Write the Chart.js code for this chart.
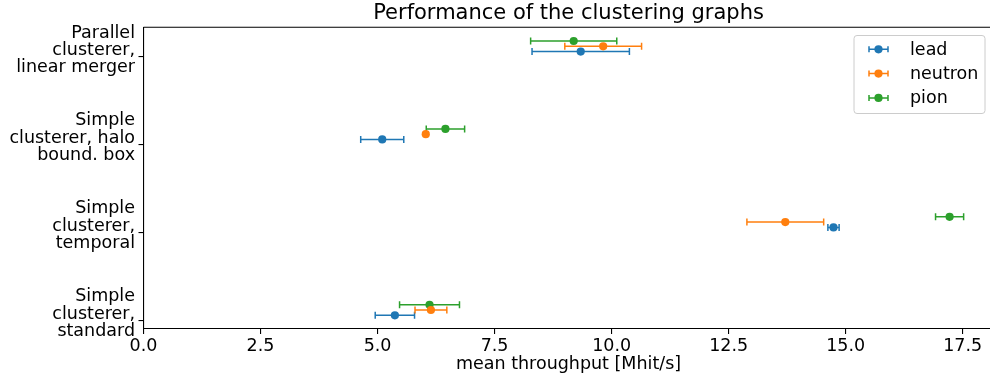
<!DOCTYPE html>
<html>
<head>
<meta charset="utf-8">
<script src="https://cdn.jsdelivr.net/npm/chart.js@4.4.1/dist/chart.umd.min.js"></script>
<style>
  html, body { margin: 0; padding: 0; background: #fff; overflow: hidden; }
  #wrap { width: 1000px; height: 379px; position: relative; }
</style>
</head>
<body>
<div id="wrap"><canvas id="chart"></canvas></div>
<script>
// categories, bottom to top
const categories = [
  ['Simple', 'clusterer,', 'standard'],
  ['Simple', 'clusterer,', 'temporal'],
  ['Simple', 'clusterer, halo', 'bound. box'],
  ['Parallel', 'clusterer,', 'linear merger']
];
const leadMean    = [5.37, 14.74, 5.10, 9.34];
const leadErr     = [0.42, 0.12, 0.46, 1.04];
const neutronMean = [6.14, 13.71, 6.03, 9.82];
const neutronErr  = [0.34, 0.82, 0.01, 0.82];
const pionMean    = [6.11, 17.22, 6.45, 9.19];
const pionErr     = [0.64, 0.30, 0.41, 0.92];
const xTicks = [0, 2.5, 5, 7.5, 10, 12.5, 15, 17.5];
const seriesNames = ['lead', 'neutron', 'pion'];

const colors = ['#1f77b4', '#ff7f0e', '#2ca02c'];
const FONT = "'DejaVu Sans', sans-serif";
const FS = 17.5;
const means = [leadMean, neutronMean, pionMean];
const errs = [leadErr, neutronErr, pionErr];
const offsets = [0.06, 0.12, 0.18];

const datasets = seriesNames.map((name, s) => ({
  label: name,
  data: means[s].map((m, i) => ({ x: m, y: i + offsets[s], err: errs[s][i] })),
  backgroundColor: colors[s],
  borderColor: colors[s],
  pointRadius: 4.1,
  pointHoverRadius: 4.1,
  pointBorderWidth: 0,
  showLine: false
}));

function errBar(ctx, xl, xr, y, color, cap) {
  ctx.strokeStyle = color;
  ctx.lineWidth = 1.5;
  ctx.beginPath();
  ctx.moveTo(xl, y); ctx.lineTo(xr, y);
  ctx.moveTo(xl, y - cap); ctx.lineTo(xl, y + cap);
  ctx.moveTo(xr, y - cap); ctx.lineTo(xr, y + cap);
  ctx.stroke();
}

const errorBars = {
  id: 'errorBars',
  beforeDatasetsDraw(chart) {
    const { ctx, scales: { x, y } } = chart;
    ctx.save();
    chart.data.datasets.forEach(ds => {
      ds.data.forEach(p => {
        const py = y.getPixelForValue(p.y);
        errBar(ctx, x.getPixelForValue(p.x - p.err), x.getPixelForValue(p.x + p.err), py, ds.borderColor, 3.5);
      });
    });
    ctx.restore();
  }
};

const decor = {
  id: 'decor',
  afterDraw(chart) {
    const { ctx, chartArea: a, scales: { y } } = chart;
    ctx.save();
    // top and right spines
    ctx.strokeStyle = '#000';
    ctx.lineWidth = 1.1;
    ctx.beginPath();
    ctx.moveTo(a.left, a.top); ctx.lineTo(a.right, a.top); ctx.lineTo(a.right, a.bottom);
    ctx.stroke();
    // title
    ctx.fillStyle = '#000';
    ctx.font = '21px ' + FONT;
    ctx.textAlign = 'center';
    ctx.textBaseline = 'alphabetic';
    ctx.fillText('Performance of the clustering graphs', (a.left + a.right) / 2, 18.5);
    // y category labels (multi-line, matplotlib-like placement)
    ctx.font = FS + 'px ' + FONT;
    ctx.textAlign = 'right';
    categories.forEach((lines, i) => {
      const ty = y.getPixelForValue(i);
      const mid = (lines.length - 1) / 2;
      lines.forEach((t, k) => ctx.fillText(t, 135, ty - 2 + (k - mid) * 17.3));
    });
    // legend
    const bx = 854, by = 35.5, bw = 131, bh = 78;
    ctx.beginPath();
    ctx.roundRect(bx, by, bw, bh, 3);
    ctx.fillStyle = 'rgba(255,255,255,0.8)';
    ctx.fill();
    ctx.strokeStyle = '#cccccc';
    ctx.lineWidth = 1;
    ctx.stroke();
    ctx.textAlign = 'left';
    ctx.textBaseline = 'middle';
    chart.data.datasets.forEach((ds, s) => {
      const ly = 49.3 + s * 24.3;
      errBar(ctx, 869, 888, ly, ds.borderColor, 3);
      ctx.fillStyle = ds.borderColor;
      ctx.beginPath();
      ctx.arc(878.5, ly, 4.1, 0, Math.PI * 2);
      ctx.fill();
      ctx.fillStyle = '#000';
      ctx.fillText(ds.label, 910, ly + 1);
    });
    ctx.restore();
  }
};

new Chart(document.getElementById('chart'), {
  type: 'scatter',
  data: { datasets },
  options: {
    responsive: true,
    maintainAspectRatio: false,
    animation: false,
    layout: { padding: { top: 27.3, right: 6.4, left: 0, bottom: 0 } },
    plugins: { legend: { display: false }, tooltip: { enabled: false } },
    scales: {
      x: {
        type: 'linear',
        position: 'bottom',
        min: 0,
        max: 18.16,
        afterBuildTicks: s => { s.ticks = xTicks.map(v => ({ value: v })); },
        afterFit: s => { s.height = 50; s.paddingLeft = 0; s.paddingRight = 0; },
        ticks: { callback: v => v.toFixed(1), color: '#000', font: { family: FONT, size: FS }, padding: 2, maxRotation: 0 },
        grid: { drawOnChartArea: false, drawTicks: true, tickLength: 5, color: '#000', lineWidth: 1.1 },
        border: { color: '#000', width: 1.1 },
        title: { display: true, text: 'mean throughput [Mhit/s]', color: '#000', font: { family: FONT, size: FS }, padding: { top: 0, bottom: 4 } }
      },
      y: {
        type: 'linear',
        min: -0.096,
        max: 3.336,
        afterBuildTicks: s => { s.ticks = categories.map((c, i) => ({ value: i })); },
        afterFit: s => { s.width = 143.5; s.paddingTop = 0; s.paddingBottom = 0; },
        ticks: { display: false },
        grid: { drawOnChartArea: false, drawTicks: true, tickLength: 5, color: '#000', lineWidth: 1.1 },
        border: { color: '#000', width: 1.1 }
      }
    }
  },
  plugins: [errorBars, decor]
});
</script>
</body>
</html>
